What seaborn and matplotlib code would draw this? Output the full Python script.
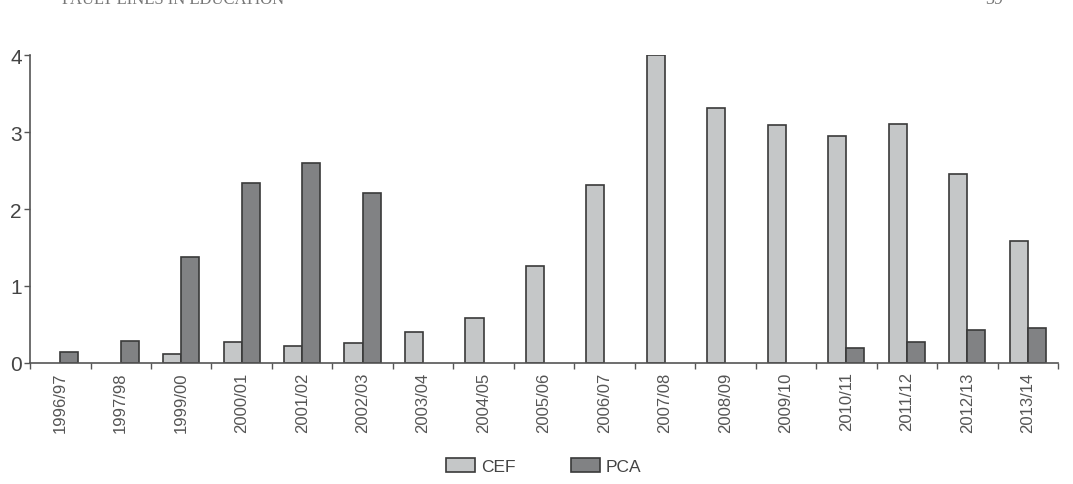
# Recreate CEF / PCA bar chart
import numpy as np
import matplotlib.pyplot as plt
import pandas as pd
import seaborn as sns

# Data
years = ['1996/97', '1997/98', '1999/00', '2000/01', '2001/02', '2002/03',
         '2003/04', '2004/05', '2005/06', '2006/07', '2007/08', '2008/09',
         '2009/10', '2010/11', '2011/12', '2012/13', '2013/14']
cef = [np.nan, np.nan, 0.12, 0.27, 0.22, 0.26, 0.40, 0.59, 1.26, 2.31,
       4.00, 3.31, 3.09, 2.95, 3.10, 2.45, 1.58]
pca = [0.14, 0.28, 1.38, 2.34, 2.60, 2.21, np.nan, np.nan, np.nan, np.nan,
       np.nan, np.nan, np.nan, 0.19, 0.27, 0.43, 0.45]
series = ['CEF', 'PCA']

df = pd.DataFrame({'Year': years * 2,
                   'Series': ['CEF'] * len(years) + ['PCA'] * len(years),
                   'Value': cef + pca})

sns.set_style('white')
plt.rcParams['font.family'] = ['Liberation Sans', 'DejaVu Sans']

fig = plt.figure(figsize=(10.73, 4.85), dpi=100)
ax = fig.add_axes([0.028, 0.2495, 0.958, 0.635])

sns.barplot(data=df, x='Year', y='Value', hue='Series', order=years,
            hue_order=series, palette=['#c5c7c8', '#808285'],
            edgecolor='#3a3a3a', linewidth=1.2, width=0.6, ax=ax)

ax.set_xlim(-0.5, len(years) - 0.5)
ax.set_ylim(0, 4)
ax.set_yticks([0, 1, 2, 3, 4])
ax.set_xlabel('')
ax.set_ylabel('')

# ticks between categories on x, labels centred
ax.set_xticks(np.arange(len(years)))
ax.set_xticklabels(years, rotation=90, fontsize=12, color='#555555')
ax.set_xticks(np.arange(-0.5, len(years)), minor=True)
ax.tick_params(axis='x', which='major', length=0, pad=6)
ax.tick_params(axis='x', which='minor', length=4, width=1, color='#555555',
               direction='out', bottom=True)
ax.tick_params(axis='y', length=4, width=1, color='#555555', direction='out',
               left=True, labelsize=15, labelcolor='#444444', pad=2)

sns.despine(ax=ax)
for side in ['left', 'bottom']:
    ax.spines[side].set_color('#555555')
    ax.spines[side].set_linewidth(1.2)

leg = ax.legend(loc='center', bbox_to_anchor=(0.5, -0.335), ncol=2,
                frameon=False, fontsize=12.5, handlelength=1.65,
                handleheight=0.8, columnspacing=3.2, handletextpad=0.35)
for t in leg.get_texts():
    t.set_color('#444444')

# clipped page header from the source document
fig.text(0.058, 1.0, 'FAULT LINES IN EDUCATION', fontsize=12,
         family='Liberation Serif', color='#777777', va='center')
fig.text(0.918, 1.0, '39', fontsize=13, family='Liberation Serif',
         color='#777777', va='center')

fig.savefig('out.png', dpi=100)
